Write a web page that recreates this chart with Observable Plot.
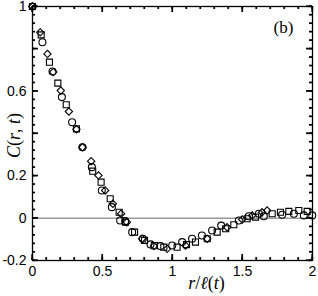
<!DOCTYPE html>
<html><head><meta charset="utf-8">
<script src="https://cdn.jsdelivr.net/npm/d3@7"></script>
<script src="https://cdn.jsdelivr.net/npm/@observablehq/plot@0.6"></script>
<style>body{margin:0;background:#fff}</style>
</head><body><div id="chart"></div>
<script>
const circleX = [0, 0.071, 0.143, 0.21, 0.283, 0.357, 0.424, 0.495, 0.567, 0.626, 0.662, 0.712, 0.788, 0.843, 0.914, 0.998, 1.069, 1.14, 1.21, 1.283, 1.348, 1.474, 1.545, 1.617, 1.652, 1.783, 1.867, 1.938, 1.998];
const circleY = [1, 0.831, 0.693, 0.572, 0.453, 0.335, 0.241, 0.131, 0.052, -0.011, -0.014, -0.066, -0.097, -0.124, -0.132, -0.129, -0.113, -0.097, -0.082, -0.058, -0.035, -0.011, 0.009, 0.021, 0.009, 0.016, 0.021, 0.013, 0.013];

const squareX = [0, 0.062, 0.121, 0.181, 0.241, 0.314, 0.43, 0.49, 0.555, 0.619, 0.664, 0.729, 0.80, 0.87, 0.938, 1.033, 1.10, 1.164, 1.248, 1.319, 1.38, 1.438, 1.533, 1.593, 1.712, 1.771, 1.831, 1.902, 1.962];
const squareY = [1, 0.866, 0.737, 0.638, 0.536, 0.422, 0.222, 0.17, 0.092, 0.028, -0.019, -0.066, -0.105, -0.13, -0.137, -0.137, -0.125, -0.113, -0.097, -0.066, -0.05, -0.031, -0.003, 0.005, 0.021, 0.028, 0.032, 0.036, 0.032];

const diamondX = [0, 0.055, 0.107, 0.148, 0.202, 0.26, 0.314, 0.357, 0.419, 0.471, 0.519, 0.574, 0.633, 0.674, 0.783, 0.867, 0.962, 1.093, 1.248, 1.39, 1.498, 1.569, 1.64, 1.676];
const diamondY = [1, 0.878, 0.776, 0.69, 0.603, 0.504, 0.42, 0.335, 0.269, 0.202, 0.131, 0.068, 0.021, -0.019, -0.097, -0.132, -0.145, -0.129, -0.097, -0.043, -0.006, 0.013, 0.028, 0.036];

const xLabelTicks = [0, 0.5, 1, 1.5, 2];
const xMinorTicks = [0,0.1,0.2,0.3,0.4,0.5,0.6,0.7,0.8,0.9,1,1.1,1.2,1.3,1.4,1.5,1.6,1.7,1.8,1.9,2];
const yMajorTicks = [-0.2, 0, 0.2, 0.4, 0.6, 0.8, 1];
const yLabelTicks = [-0.2, 0, 0.2, 0.6, 1];
const yMinorTicks = d3.range(-0.2, 1.0001, 0.04);

const circles = circleX.map((x, i) => ({x, y: circleY[i]}));
const squares = squareX.map((x, i) => ({x, y: squareY[i]}));
const diamonds = diamondX.map((x, i) => ({x, y: diamondY[i]}));

const fmt = d => d === 0 ? "0" : (d < 0 ? "-" + Math.abs(d) : String(d));
const MINOR = 3, MAJOR = 6;
const W = 318, H = 296, ML = 32, MR = 6, MT = 6, MB = 36;
const xDom = [0, 2], yDom = [-0.2, 1];
// convert a tick length in pixels to data units along each axis
const kx = (xDom[1] - xDom[0]) / (W - ML - MR);
const ky = (yDom[1] - yDom[0]) / (H - MT - MB);
const rs = {stroke: "black", strokeWidth: 1.2};
const tickRules = [
  Plot.ruleX(xMinorTicks, {x: d => d, y1: yDom[0], y2: yDom[0] + MINOR * ky, ...rs}),
  Plot.ruleX(xLabelTicks, {x: d => d, y1: yDom[0], y2: yDom[0] + MAJOR * ky, ...rs}),
  Plot.ruleX(xMinorTicks, {x: d => d, y1: yDom[1], y2: yDom[1] - MINOR * ky, ...rs}),
  Plot.ruleX(xLabelTicks, {x: d => d, y1: yDom[1], y2: yDom[1] - MAJOR * ky, ...rs}),
  Plot.ruleY(yMinorTicks, {y: d => d, x1: xDom[0], x2: xDom[0] + MINOR * kx, ...rs}),
  Plot.ruleY(yMajorTicks, {y: d => d, x1: xDom[0], x2: xDom[0] + MAJOR * kx, ...rs}),
  Plot.ruleY(yMinorTicks, {y: d => d, x1: xDom[1], x2: xDom[1] - MINOR * kx, ...rs}),
  Plot.ruleY(yMajorTicks, {y: d => d, x1: xDom[1], x2: xDom[1] - MAJOR * kx, ...rs})
];

const chart = Plot.plot({
  width: W, height: H,
  marginLeft: ML, marginRight: MR, marginTop: MT, marginBottom: MB,
  x: {domain: xDom, axis: null},
  y: {domain: yDom, axis: null},
  style: {fontFamily: "Liberation Sans", fontSize: "14px", background: "white"},
  marks: [
    Plot.ruleY([0], {stroke: "#666", strokeWidth: 1}),
    Plot.axisX(xLabelTicks, {anchor: "bottom", tickSize: 0, tickPadding: 6, tickFormat: fmt, label: null, fontSize: 14, fill: "black"}),
    Plot.axisY(yLabelTicks, {anchor: "left", tickSize: 0, tickPadding: 6, tickFormat: fmt, label: null, fontSize: 14, fill: "black"}),
    Plot.dot(circles, {x: "x", y: "y", symbol: "circle", r: 3.5, stroke: "black", strokeWidth: 1.1, fill: "none"}),
    Plot.dot(squares, {x: "x", y: "y", symbol: "square", r: 3.4, stroke: "black", strokeWidth: 1.1, fill: "none"}),
    Plot.dot(diamonds, {x: "x", y: "y", symbol: "diamond2", r: 3.3, stroke: "black", strokeWidth: 1.1, fill: "none"}),
    Plot.frame({stroke: "black", strokeWidth: 1.3, fill: "none"}),
    ...tickRules,
    Plot.text(["C(r, t)"], {frameAnchor: "left", textAnchor: "middle", lineAnchor: "middle", dx: -18, dy: 2, rotate: -90, fontFamily: "Liberation Serif", fontSize: 18, fontStyle: "italic", fill: "black", className: "ylab"}),
    Plot.text(["r/ℓ(t)"], {frameAnchor: "bottom", textAnchor: "middle", lineAnchor: "middle", dx: 34, dy: 23, fontFamily: "Liberation Serif", fontSize: 18, fontStyle: "italic", fill: "black", className: "xlab"}),
    Plot.text(["(b)"], {frameAnchor: "top-right", textAnchor: "middle", lineAnchor: "middle", dx: -29, dy: 21, fontFamily: "Liberation Serif", fontSize: 17, fill: "black"})
  ]
});
document.getElementById("chart").appendChild(chart);

// extra safety: also draw the inward ticks directly into the plot's svg, via Plot's scales
try {
  const svg = chart.tagName.toLowerCase() === "svg" ? chart : chart.querySelector("svg");
  const sx = chart.scale("x"), sy = chart.scale("y");
  const ns = "http://www.w3.org/2000/svg";
  const g = document.createElementNS(ns, "g");
  g.setAttribute("stroke", "black");
  g.setAttribute("stroke-width", "1.2");
  const seg = (a, b, c, d) => {
    const l = document.createElementNS(ns, "line");
    l.setAttribute("x1", a); l.setAttribute("y1", b); l.setAttribute("x2", c); l.setAttribute("y2", d);
    g.appendChild(l);
  };
  const bx0 = sx.apply(xDom[0]), bx1 = sx.apply(xDom[1]), by0 = sy.apply(yDom[0]), by1 = sy.apply(yDom[1]);
  [[xMinorTicks, MINOR], [xLabelTicks, MAJOR]].forEach(([vals, len]) => vals.forEach(v => {
    const x = sx.apply(v); seg(x, by0, x, by0 - len); seg(x, by1, x, by1 + len);
  }));
  [[yMinorTicks, MINOR], [yMajorTicks, MAJOR]].forEach(([vals, len]) => vals.forEach(v => {
    const y = sy.apply(v); seg(bx0, y, bx0 + len, y); seg(bx1, y, bx1 - len, y);
  }));
  svg.appendChild(g);
} catch (e) {}

function mixed(sel, parts) {
  d3.select(chart).selectAll(sel + " text").each(function() {
    const t = d3.select(this);
    t.text(null);
    parts.forEach(([s, it]) => t.append("tspan").attr("font-style", it ? "italic" : "normal").text(s));
  });
}
mixed(".ylab", [["C", 1], ["(", 0], ["r", 1], [", ", 0], ["t", 1], [")", 0]]);
mixed(".xlab", [["r", 1], ["/", 0], ["ℓ", 1], ["(", 0], ["t", 1], [")", 0]]);
</script>
</body></html>
